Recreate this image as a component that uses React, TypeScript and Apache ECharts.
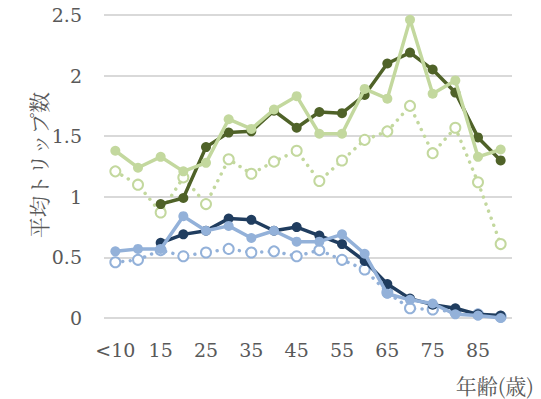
import React, { useEffect, useRef } from "react";
import * as echarts from "echarts";

// Age groups on the horizontal axis
const ages = ["<10", "10", "15", "20", "25", "30", "35", "40", "45", "50", "55", "60", "65", "70", "75", "80", "85", "90"];

// Average trips per person by age group
const greenLight = [1.38, 1.24, 1.33, 1.21, 1.28, 1.64, 1.56, 1.72, 1.83, 1.52, 1.52, 1.89, 1.81, 2.46, 1.85, 1.96, 1.33, 1.39];
const greenDark = [null, null, 0.94, 0.99, 1.41, 1.53, 1.54, 1.71, 1.57, 1.70, 1.69, 1.84, 2.10, 2.19, 2.05, 1.86, 1.49, 1.30];
const greenDotted = [1.21, 1.10, 0.87, 1.16, 0.94, 1.31, 1.19, 1.29, 1.38, 1.13, 1.30, 1.47, 1.54, 1.75, 1.36, 1.57, 1.12, 0.61];
const navy = [null, null, 0.62, 0.69, 0.72, 0.82, 0.81, 0.72, 0.75, 0.68, 0.61, 0.47, 0.28, 0.16, 0.11, 0.08, 0.03, 0.02];
const blueLight = [0.55, 0.57, 0.57, 0.84, 0.72, 0.76, 0.66, 0.72, 0.63, 0.63, 0.69, 0.53, 0.20, 0.15, 0.12, 0.03, 0.02, 0.0];
const blueDotted = [0.46, 0.48, 0.56, 0.51, 0.54, 0.57, 0.54, 0.55, 0.51, 0.56, 0.48, 0.40, 0.21, 0.08, 0.07, 0.05, 0.03, 0.01];

const yTitle = "平均トリップ数";
const xTitle = "年齢(歳)";

const C_GREEN_LIGHT = "#c3d89e";
const C_GREEN_DARK = "#4f6228";
const C_NAVY = "#203d5f";
const C_BLUE_LIGHT = "#93b1d9";
const TEXT = "#595959";
const SERIF = "'DejaVu Serif', 'Liberation Serif', serif";
const CJK = "'Noto Serif CJK JP', 'Noto Sans CJK JP', sans-serif";

function solid(name: string, data: (number | null)[], color: string, z: number) {
  return {
    name,
    type: "line",
    data,
    z,
    symbol: "circle",
    symbolSize: 10,
    showSymbol: true,
    showAllSymbol: true,
    connectNulls: false,
    itemStyle: { color },
    lineStyle: { color, width: 3.5 },
  };
}

function dotted(name: string, data: (number | null)[], color: string, z: number) {
  return {
    name,
    type: "line",
    data,
    z,
    symbol: "emptyCircle",
    symbolSize: 10,
    showSymbol: true,
    showAllSymbol: true,
    itemStyle: { color, borderColor: color, borderWidth: 2.5 },
    lineStyle: { color, width: 3.5, type: [0.01, 7.5], cap: "round" },
  };
}

export default function App() {
  const ref = useRef<HTMLDivElement>(null);

  useEffect(() => {
    if (!ref.current) return;
    const chart = echarts.init(ref.current, null, { renderer: "svg" });
    chart.setOption({
      animation: false,
      backgroundColor: "#ffffff",
      grid: { left: 104, right: 29, top: 15, bottom: 81 },
      xAxis: {
        type: "category",
        data: ages,
        boundaryGap: true,
        axisLine: { show: false },
        axisTick: { show: false },
        axisLabel: {
          interval: 1,
          color: TEXT,
          fontFamily: SERIF,
          fontSize: 19,
          margin: 22,
        },
      },
      yAxis: {
        type: "value",
        min: 0,
        max: 2.5,
        interval: 0.5,
        axisLine: { show: false },
        axisTick: { show: false },
        axisLabel: { color: TEXT, fontFamily: SERIF, fontSize: 19, margin: 22 },
        splitLine: { lineStyle: { color: "#d9d9d9", width: 2 } },
      },
      graphic: [
        {
          type: "text",
          x: 38,
          y: 165,
          rotation: Math.PI / 2,
          style: {
            text: yTitle,
            fill: TEXT,
            font: `21px ${CJK}`,
            align: "center",
            verticalAlign: "middle",
          },
        },
        {
          type: "text",
          x: 534,
          y: 385,
          style: {
            text: xTitle,
            fill: TEXT,
            font: `21px ${CJK}`,
            align: "right",
            verticalAlign: "middle",
          },
        },
      ],
      series: [
        dotted("A3", greenDotted, C_GREEN_LIGHT, 2),
        dotted("B3", blueDotted, C_BLUE_LIGHT, 2),
        solid("B1", navy, C_NAVY, 3),
        solid("B2", blueLight, C_BLUE_LIGHT, 4),
        solid("A1", greenDark, C_GREEN_DARK, 5),
        solid("A2", greenLight, C_GREEN_LIGHT, 6),
      ],
    });
    return () => chart.dispose();
  }, []);

  return (
    <div
      ref={ref}
      style={{ position: "fixed", left: 0, top: 0, width: 541, height: 399, background: "#fff" }}
    />
  );
}
